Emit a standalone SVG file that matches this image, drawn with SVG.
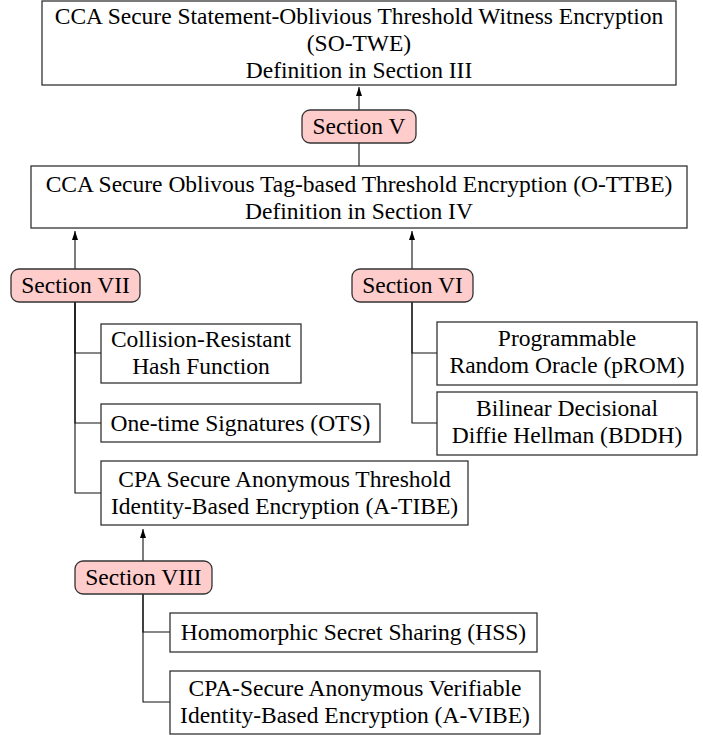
<svg xmlns="http://www.w3.org/2000/svg" width="703" height="735" viewBox="0 0 703 735">
<defs>
<marker id="arr" markerUnits="userSpaceOnUse" markerWidth="10" markerHeight="8" refX="9" refY="3" orient="auto">
<path d="M0,0 L9,3 L0,6 z" fill="#000"/>
</marker>
<style>
.box{fill:#fff;stroke:#333;stroke-width:1.3}
.sec{fill:#ffcccc;stroke:#333;stroke-width:1.3}
.t{font-family:"Liberation Serif","Times New Roman",serif;font-size:23.5px;fill:#000;text-anchor:middle}
.c{fill:none;stroke:#111;stroke-width:1.1}
</style>
</defs>
<rect width="703" height="735" fill="#fff"/>
<g id="connectors">
<line class="c" x1="359" y1="110" x2="359" y2="87" marker-end="url(#arr)"/>
<line class="c" x1="359" y1="143" x2="359" y2="166"/>
<line class="c" x1="75" y1="269" x2="75" y2="231" marker-end="url(#arr)"/>
<line class="c" x1="412" y1="269" x2="412" y2="231" marker-end="url(#arr)"/>
<polyline class="c" points="75,302 75,353 101,353"/>
<polyline class="c" points="75,302 75,423 101,423"/>
<polyline class="c" points="75,302 75,493 101,493"/>
<polyline class="c" points="412,302 412,353 437,353"/>
<polyline class="c" points="412,302 412,423 437,423"/>
<line class="c" x1="143" y1="561" x2="143" y2="529" marker-end="url(#arr)"/>
<polyline class="c" points="143,594 143,632 170,632"/>
<polyline class="c" points="143,594 143,702 170,702"/>
</g>
<g id="so-twe">
<rect class="box" x="42" y="1" width="634" height="84"/>
<text class="t" x="359" y="24">CCA Secure Statement-Oblivious Threshold Witness Encryption</text>
<text class="t" x="359" y="51">(SO-TWE)</text>
<text class="t" x="359" y="78">Definition in Section III</text>
</g>
<g id="sec5">
<rect class="sec" x="302" y="110" width="114" height="33" rx="8"/>
<text class="t" x="359" y="134">Section V</text>
</g>
<g id="o-ttbe">
<rect class="box" x="31" y="166" width="656" height="62"/>
<text class="t" x="359" y="192">CCA Secure Oblivous Tag-based Threshold Encryption (O-TTBE)</text>
<text class="t" x="359" y="219">Definition in Section IV</text>
</g>
<g id="sec7">
<rect class="sec" x="11" y="269" width="129" height="33" rx="8"/>
<text class="t" x="75.5" y="293">Section VII</text>
</g>
<g id="sec6">
<rect class="sec" x="352" y="269" width="121" height="33" rx="8"/>
<text class="t" x="412.5" y="293">Section VI</text>
</g>
<g id="crhf">
<rect class="box" x="101" y="324" width="200" height="59"/>
<text class="t" x="201" y="347">Collision-Resistant</text>
<text class="t" x="201" y="374">Hash Function</text>
</g>
<g id="ots">
<rect class="box" x="101" y="404" width="279" height="38"/>
<text class="t" x="240.5" y="430.5">One-time Signatures (OTS)</text>
</g>
<g id="a-tibe">
<rect class="box" x="101" y="461" width="367" height="64"/>
<text class="t" x="284.5" y="486.5">CPA Secure Anonymous Threshold</text>
<text class="t" x="284.5" y="513.5">Identity-Based Encryption (A-TIBE)</text>
</g>
<g id="prom">
<rect class="box" x="437" y="322" width="260" height="63"/>
<text class="t" x="567" y="346">Programmable</text>
<text class="t" x="567" y="373">Random Oracle (pROM)</text>
</g>
<g id="bddh">
<rect class="box" x="437" y="392" width="260" height="63"/>
<text class="t" x="567" y="416">Bilinear Decisional</text>
<text class="t" x="567" y="443">Diffie Hellman (BDDH)</text>
</g>
<g id="sec8">
<rect class="sec" x="75" y="561" width="137" height="33" rx="8"/>
<text class="t" x="143.5" y="585">Section VIII</text>
</g>
<g id="hss">
<rect class="box" x="170" y="613" width="367" height="39"/>
<text class="t" x="353.5" y="640">Homomorphic Secret Sharing (HSS)</text>
</g>
<g id="a-vibe">
<rect class="box" x="170" y="671" width="370" height="63"/>
<text class="t" x="355" y="696">CPA-Secure Anonymous Verifiable</text>
<text class="t" x="355" y="723">Identity-Based Encryption (A-VIBE)</text>
</g>
</svg>
